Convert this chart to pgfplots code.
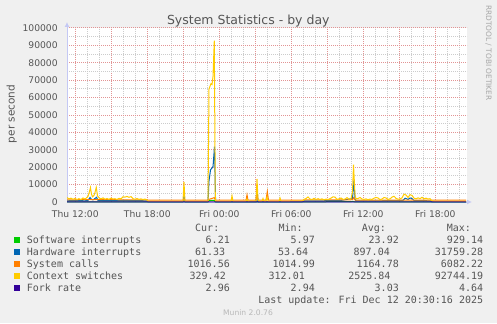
\documentclass[border=0pt]{standalone}
\usepackage{fontspec}
\setmainfont{DejaVu Sans}
\newfontfamily\monofont{DejaVu Sans Mono}
\usepackage{pgfplots}
\pgfplotsset{compat=1.18}
\usetikzlibrary{arrows.meta}
\definecolor{bgc}{HTML}{F0F0F0}
\definecolor{txt}{HTML}{555555}
\definecolor{mgrid}{HTML}{E29494}
\definecolor{ngrid}{HTML}{CCCCCC}
\definecolor{axc}{HTML}{C4C8F4}
\definecolor{cgreen}{HTML}{00CC00}
\definecolor{cblue}{HTML}{0066B3}
\definecolor{corange}{HTML}{FF8000}
\definecolor{cyellow}{HTML}{FFCC00}
\definecolor{cpurple}{HTML}{330099}
\begin{document}
\begin{tikzpicture}[x=1bp,y=1bp]
\fill[bgc] (0,0) rectangle (497,323);
\useasboundingbox (0,0) rectangle (497,323);
\begin{axis}[
  at={(67bp,121bp)}, anchor=south west,
  scale only axis, width=400bp, height=174bp,
  xmin=11.31, xmax=44.64, ymin=0, ymax=100000,
  scaled y ticks=false, scaled x ticks=false,
  axis background/.style={fill=white},
  axis x line=bottom, axis y line=left,
  axis line style={draw=axc, line width=1bp},
  x axis line style={-{Latex[length=5bp,width=5bp]}, shorten >=-5bp},
  y axis line style={-{Latex[length=5bp,width=5bp]}, shorten >=-6bp},
  xtick={12,15,18,21,24,27,30,33,36,39,42},
  xticklabels={Thu 12:00,,Thu 18:00,,Fri 00:00,,Fri 06:00,,Fri 12:00,,Fri 18:00},
  minor xtick={13,14,16,17,19,20,22,23,25,26,28,29,31,32,34,35,37,38,40,41,43,44},
  ytick={0,10000,20000,30000,40000,50000,60000,70000,80000,90000,100000},
  yticklabels={0,10000,20000,30000,40000,50000,60000,70000,80000,90000,100000},
  minor ytick={5000,15000,25000,35000,45000,55000,65000,75000,85000,95000},
  grid=both,
  major grid style={draw=mgrid, line width=1bp, dash pattern=on 1bp off 1bp},
  minor grid style={draw=ngrid, line width=1bp, dash pattern=on 1bp off 1bp},
  tick style={draw=none},
  /pgf/number format/assume math mode=true,
  tick label style={font=\fontsize{9.2bp}{11bp}\selectfont, text=txt},
  xticklabel style={anchor=north, inner sep=0pt, yshift=-6bp},
  yticklabel style={anchor=east, inner sep=0pt, xshift=-7bp},
  clip=true,
]
% Software interrupts
\addplot[cgreen, line width=1bp] coordinates {
(11.31,20) (17.98,25) (18.06,8) (21.06,150) (23.06,10) (23.14,700) (23.31,900) (23.58,929) (23.67,30) (23.73,8)
(27.06,8) (27.14,400) (27.23,8) (30.89,8) (31.06,20) (35.18,300) (35.31,20) (41.56,20) (41.73,6) (44.56,6.21)};
% Hardware interrupts
\addplot[cblue, line width=1bp] coordinates {
(11.31,700) (11.98,800) (12.81,700) (13.06,900) (13.23,2600) (13.35,1500) (13.48,1200) (13.64,2000) (13.77,2700)
(13.89,900) (14.89,800) (16.14,900) (17.23,750) (17.98,700) (18.06,60) (20.98,60) (21.06,3200) (21.14,60)
(22.98,60) (23.06,200) (23.14,12000) (23.27,18500) (23.39,19500) (23.48,20500) (23.60,31759) (23.69,300) (23.73,60)
(27.06,60) (27.14,7500) (27.23,60) (30.89,60) (31.06,600) (32.39,700) (34.06,800) (35.10,2000) (35.21,12400)
(35.31,1500) (35.39,700) (37.39,700) (39.31,900) (39.48,2200) (39.73,1500) (39.89,2300) (40.06,2000) (40.23,800)
(41.56,700) (41.73,61) (44.56,61)};
% System calls
\addplot[corange, line width=1bp] coordinates {
(11.31,1200) (13.27,1400) (13.75,1400) (17.98,1150) (18.06,1020) (20.98,1020) (21.06,1800) (21.14,1020)
(23.06,1020) (23.14,1500) (23.58,2500) (23.67,1100) (23.73,1020) (26.23,1020) (26.31,4200) (26.39,1020)
(27.06,1020) (27.14,4500) (27.23,1020) (27.89,1020) (28.00,6082) (28.10,1020) (30.89,1020) (31.06,1150)
(35.10,1300) (35.18,2500) (35.31,1150) (41.56,1150) (41.73,1020) (44.56,1016)};
% Context switches
\addplot[cyellow, line width=1bp] coordinates {
(11.31,2500) (11.475,1800) (11.642,2200) (11.808,1600) (11.975,2000) (12.142,1500) (12.308,1900) (12.475,1400)
(12.642,2300) (12.808,1700) (12.975,2600) (13.058,3200) (13.183,6000) (13.267,8300) (13.35,4500) (13.433,3000)
(13.558,3800) (13.642,5500) (13.75,8400) (13.85,3500) (13.975,2400) (14.142,1800) (14.308,2400) (14.475,1600)
(14.642,2000) (14.808,1500) (14.975,2200) (15.142,1700) (15.308,1900) (15.475,1500) (15.642,2100) (15.808,1800)
(15.975,3000) (16.142,2800) (16.308,3200) (16.475,2700) (16.642,3100) (16.808,1900) (16.975,1600) (17.142,2000)
(17.308,1500) (17.475,1800) (17.642,1400) (17.808,1700) (17.975,1300) (18.058,400) (19.475,420) (20.975,400)
(21.058,11500) (21.142,400) (22.392,380) (23.058,400) (23.142,65000) (23.225,66500) (23.308,68000) (23.392,67500)
(23.475,72000) (23.583,92744) (23.667,600) (23.725,420) (24.975,420) (25.058,3600) (25.142,420) (26.225,420)
(26.308,1800) (26.392,420) (27.058,500) (27.142,13300) (27.225,1500) (27.308,400) (27.558,420) (27.642,2000)
(27.725,420) (27.892,420) (27.975,3000) (28.058,420) (28.975,420) (29.058,2300) (29.142,420) (30.892,450)
(31.058,1500) (31.225,2000) (31.392,2900) (31.558,1700) (31.725,1400) (31.892,2100) (32.058,1500) (32.225,1900)
(32.392,1500) (32.558,1800) (32.725,1300) (32.892,1700) (33.058,1400) (33.308,2200) (33.475,3000) (33.642,2800)
(33.808,1500) (33.975,1800) (34.142,2300) (34.308,1500) (34.475,1700) (34.642,2500) (34.808,1600) (34.975,1800)
(35.1,6000) (35.183,21500) (35.308,4000) (35.392,1800) (35.558,2000) (35.725,2600) (35.892,1700) (36.058,1500)
(36.225,1800) (36.392,1300) (36.558,1700) (36.725,1500) (36.892,2200) (37.058,2600) (37.225,2300) (37.392,1400)
(37.558,1700) (37.725,2600) (37.892,2300) (38.058,1500) (38.225,1800) (38.392,2800) (38.558,3300) (38.725,2100)
(38.892,1600) (39.058,1800) (39.225,2400) (39.392,4500) (39.558,4000) (39.725,2600) (39.892,4200) (40.058,3800)
(40.225,2200) (40.392,1800) (40.558,2400) (40.725,1900) (40.892,2700) (41.058,1800) (41.225,2200) (41.392,1700)
(41.558,1900) (41.725,600) (41.892,380) (43.225,340) (44.558,329)};
% Fork rate
\addplot[cpurple, line width=1bp] coordinates {
(11.31,3) (17.98,3.1) (23.58,4.6) (30.89,3) (35.18,3.2) (41.73,3) (44.56,2.96)};
\end{axis}
% titles
\node[anchor=base, inner sep=0pt, font=\fontsize{12.5bp}{14bp}\selectfont, text=txt] at (248.3,298.7) {System Statistics - by day};
\node[anchor=base, inner sep=0pt, rotate=90, font=\fontsize{10.5bp}{12bp}\selectfont, text=txt] at (14.5,209) {per second};
\node[anchor=base, inner sep=0pt, rotate=-90, font=\fontsize{7.4bp}{9bp}\selectfont, text=black!35] at (486,270) {RRDTOOL / TOBI OETIKER};
% legend
\begin{scope}[every node/.style={inner sep=0pt, text=txt, font=\monofont\fontsize{10bp}{12bp}\selectfont}]
\node[anchor=base west] at (195,91.7) {Cur:};
\node[anchor=base west] at (278.3,91.7) {Min:};
\node[anchor=base west] at (361.7,91.7) {Avg:};
\node[anchor=base west] at (446.7,91.7) {Max:};
\fill[cgreen] (14,80.3) rectangle (20,85.7);
\fill[cblue] (14,68.3) rectangle (20,73.7);
\fill[corange] (14,56.3) rectangle (20,61.7);
\fill[cyellow] (14,44.3) rectangle (20,49.7);
\fill[cpurple] (14,32.3) rectangle (20,37.7);
\node[anchor=base west] at (26.7,79.7) {Software interrupts};
\node[anchor=base west] at (26.7,67.7) {Hardware interrupts};
\node[anchor=base west] at (26.7,55.7) {System calls};
\node[anchor=base west] at (26.7,43.7) {Context switches};
\node[anchor=base west] at (26.7,31.7) {Fork rate};
% Cur
\node[anchor=base east] at (230,79.7) {6.21};
\node[anchor=base east] at (225.3,67.7) {61.33};
\node[anchor=base east] at (230,55.7) {1016.56};
\node[anchor=base east] at (226,43.7) {329.42};
\node[anchor=base east] at (230,31.7) {2.96};
% Min
\node[anchor=base east] at (315,79.7) {5.97};
\node[anchor=base east] at (308.3,67.7) {53.64};
\node[anchor=base east] at (315,55.7) {1014.99};
\node[anchor=base east] at (305,43.7) {312.01};
\node[anchor=base east] at (315,31.7) {2.94};
% Avg
\node[anchor=base east] at (399,79.7) {23.92};
\node[anchor=base east] at (390,67.7) {897.04};
\node[anchor=base east] at (399,55.7) {1164.78};
\node[anchor=base east] at (390.7,43.7) {2525.84};
\node[anchor=base east] at (399,31.7) {3.03};
% Max
\node[anchor=base east] at (483.3,79.7) {929.14};
\node[anchor=base east] at (483.3,67.7) {31759.28};
\node[anchor=base east] at (483.3,55.7) {6082.22};
\node[anchor=base east] at (483.3,43.7) {92744.19};
\node[anchor=base east] at (483.3,31.7) {4.64};
\node[anchor=base east] at (483.3,19.7) {Last update: Fri Dec 12 20:30:16 2025};
\end{scope}
\node[anchor=base, inner sep=0pt, font=\fontsize{7.6bp}{9bp}\selectfont, text=black!28] at (248,8) {Munin 2.0.76};
\end{tikzpicture}
\end{document}
